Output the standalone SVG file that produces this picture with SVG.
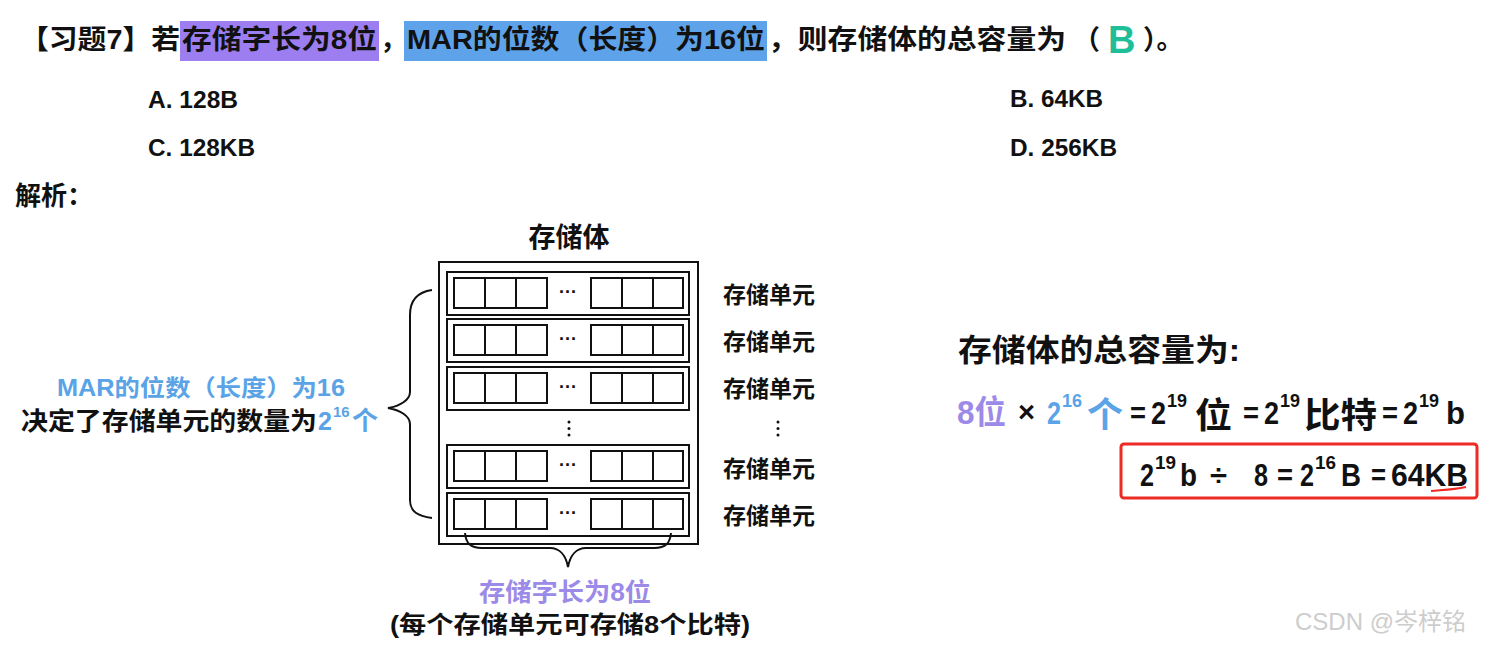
<svg xmlns="http://www.w3.org/2000/svg" width="1489" height="646" viewBox="0 0 1489 646">
<style>
text{font-family:"Liberation Sans","Noto Sans CJK SC",sans-serif;font-weight:bold;fill:#111}
.blue{fill:#5aa3e6}
.purple{fill:#9b8ae8}
.lbl{font-size:23px}
.ln{fill:none;stroke:#111;stroke-width:2}
.cell{fill:#fff;stroke:#111;stroke-width:2}
.d{font-size:32px}
.op{font-size:29px}
.sup{font-size:19px}
.cj{font-size:35px}
</style>
<rect width="1489" height="646" fill="#fff"/>
<g id="question">
<rect x="180" y="21" width="199" height="40" fill="#9c7ef0"/>
<rect x="404" y="21" width="363" height="40" fill="#5ea3ea"/>
<text x="20" y="49" font-size="27" textLength="160" lengthAdjust="spacingAndGlyphs">【习题7】若</text>
<text x="182" y="49" font-size="27" textLength="195" lengthAdjust="spacingAndGlyphs">存储字长为8位</text>
<text x="380" y="49" font-size="27">，</text>
<text x="407" y="49" font-size="27" textLength="358" lengthAdjust="spacingAndGlyphs">MAR的位数（长度）为16位</text>
<text x="768" y="49" font-size="27" textLength="298" lengthAdjust="spacingAndGlyphs">，则存储体的总容量为</text>
<text x="1073" y="49" font-size="27">（</text>
<text x="1108" y="53" font-size="38" style="fill:#1fbe99">B</text>
<text x="1143" y="49" font-size="27">）。</text>
</g>
<g id="options">
<text x="148" y="108" font-size="24" textLength="90" lengthAdjust="spacingAndGlyphs">A. 128B</text>
<text x="1010" y="107" font-size="24" textLength="93" lengthAdjust="spacingAndGlyphs">B. 64KB</text>
<text x="148" y="156" font-size="24" textLength="107" lengthAdjust="spacingAndGlyphs">C. 128KB</text>
<text x="1010" y="156" font-size="24" textLength="107" lengthAdjust="spacingAndGlyphs">D. 256KB</text>
<text x="15" y="205" font-size="26">解析：</text>
</g>
<g id="storage">
<text x="569" y="247" font-size="27" text-anchor="middle">存储体</text>
<rect class="ln" x="439" y="262" width="259" height="282"/>
<g id="row1">
<rect class="ln" x="447" y="272" width="242" height="43"/>
<rect class="cell" x="454" y="278" width="31" height="30"/><rect class="cell" x="485" y="278" width="31" height="30"/><rect class="cell" x="516" y="278" width="31" height="30"/>
<rect class="cell" x="591" y="278" width="31" height="30"/><rect class="cell" x="622" y="278" width="31" height="30"/><rect class="cell" x="653" y="278" width="30" height="30"/>
<text x="568" y="298" font-size="18" text-anchor="middle">···</text>
</g>
<g id="row2">
<rect class="ln" x="447" y="319" width="242" height="43"/>
<rect class="cell" x="454" y="325" width="31" height="30"/><rect class="cell" x="485" y="325" width="31" height="30"/><rect class="cell" x="516" y="325" width="31" height="30"/>
<rect class="cell" x="591" y="325" width="31" height="30"/><rect class="cell" x="622" y="325" width="31" height="30"/><rect class="cell" x="653" y="325" width="30" height="30"/>
<text x="568" y="345" font-size="18" text-anchor="middle">···</text>
</g>
<g id="row3">
<rect class="ln" x="447" y="367" width="242" height="43"/>
<rect class="cell" x="454" y="373" width="31" height="30"/><rect class="cell" x="485" y="373" width="31" height="30"/><rect class="cell" x="516" y="373" width="31" height="30"/>
<rect class="cell" x="591" y="373" width="31" height="30"/><rect class="cell" x="622" y="373" width="31" height="30"/><rect class="cell" x="653" y="373" width="30" height="30"/>
<text x="568" y="393" font-size="18" text-anchor="middle">···</text>
</g>
<g id="vdots">
<circle cx="569" cy="422" r="1.5" fill="#111"/><circle cx="569" cy="428.5" r="1.5" fill="#111"/><circle cx="569" cy="435" r="1.5" fill="#111"/>
<circle cx="778" cy="422" r="1.5" fill="#111"/><circle cx="778" cy="428.5" r="1.5" fill="#111"/><circle cx="778" cy="435" r="1.5" fill="#111"/>
</g>
<g id="row4">
<rect class="ln" x="447" y="445" width="242" height="43"/>
<rect class="cell" x="454" y="451" width="31" height="30"/><rect class="cell" x="485" y="451" width="31" height="30"/><rect class="cell" x="516" y="451" width="31" height="30"/>
<rect class="cell" x="591" y="451" width="31" height="30"/><rect class="cell" x="622" y="451" width="31" height="30"/><rect class="cell" x="653" y="451" width="30" height="30"/>
<text x="568" y="471" font-size="18" text-anchor="middle">···</text>
</g>
<g id="row5">
<rect class="ln" x="447" y="493" width="242" height="43"/>
<rect class="cell" x="454" y="499" width="31" height="30"/><rect class="cell" x="485" y="499" width="31" height="30"/><rect class="cell" x="516" y="499" width="31" height="30"/>
<rect class="cell" x="591" y="499" width="31" height="30"/><rect class="cell" x="622" y="499" width="31" height="30"/><rect class="cell" x="653" y="499" width="30" height="30"/>
<text x="568" y="519" font-size="18" text-anchor="middle">···</text>
</g>
<g id="unit-labels">
<text class="lbl" x="723" y="303">存储单元</text>
<text class="lbl" x="723" y="350">存储单元</text>
<text class="lbl" x="723" y="397">存储单元</text>
<text class="lbl" x="723" y="477">存储单元</text>
<text class="lbl" x="723" y="524">存储单元</text>
</g>
</g>
<g id="braces">
<path class="ln" d="M432,290 C418,292 410,300 410,315 L410,392 C410,400 400,406 388,408 C400,410 410,416 410,424 L410,500 C410,512 418,516 432,518"/>
<path class="ln" d="M465,533 C466,543 470,548 482,548 L550,548 C560,548 566,556 568,567 C570,556 576,548 586,548 L654,548 C666,548 670,543 671,533"/>
</g>
<g id="left-note">
<text x="57" y="396" font-size="23" class="blue" textLength="288" lengthAdjust="spacingAndGlyphs">MAR的位数（长度）为16</text>
<text x="21" y="430" font-size="25" textLength="296" lengthAdjust="spacingAndGlyphs">决定了存储单元的数量为</text>
<text x="318" y="430" font-size="25" class="blue">2</text>
<text x="333" y="417" font-size="15" class="blue">16</text>
<text x="352" y="430" font-size="26" class="blue">个</text>
</g>
<g id="bottom-note">
<text x="565" y="601" font-size="25" class="purple" text-anchor="middle" textLength="172" lengthAdjust="spacingAndGlyphs">存储字长为8位</text>
<text x="570" y="633" font-size="24" text-anchor="middle" textLength="360" lengthAdjust="spacingAndGlyphs">(每个存储单元可存储8个比特)</text>
</g>
<g id="result">
<text x="958" y="361" font-size="31" textLength="282" lengthAdjust="spacingAndGlyphs">存储体的总容量为:</text>
<text x="957" y="424" font-size="33" class="purple" textLength="49" lengthAdjust="spacingAndGlyphs">8位</text>
<text x="1018" y="422" class="op" textLength="17" lengthAdjust="spacingAndGlyphs">×</text>
<text x="1047" y="424" class="d blue" textLength="14" lengthAdjust="spacingAndGlyphs">2</text>
<text x="1062" y="407" class="sup blue" textLength="20" lengthAdjust="spacingAndGlyphs">16</text>
<text x="1087" y="427" class="cj blue" textLength="36" lengthAdjust="spacingAndGlyphs">个</text>
<text x="1130" y="423" class="op" textLength="16" lengthAdjust="spacingAndGlyphs">=</text>
<text x="1151" y="424" class="d" textLength="15" lengthAdjust="spacingAndGlyphs">2</text>
<text x="1167" y="407" class="sup" textLength="20" lengthAdjust="spacingAndGlyphs">19</text>
<text x="1195" y="428" class="cj" textLength="37" lengthAdjust="spacingAndGlyphs">位</text>
<text x="1243" y="423" class="op" textLength="16" lengthAdjust="spacingAndGlyphs">=</text>
<text x="1264" y="424" class="d" textLength="15" lengthAdjust="spacingAndGlyphs">2</text>
<text x="1280" y="407" class="sup" textLength="20" lengthAdjust="spacingAndGlyphs">19</text>
<text x="1304" y="428" class="cj" textLength="73" lengthAdjust="spacingAndGlyphs">比特</text>
<text x="1382" y="423" class="op" textLength="16" lengthAdjust="spacingAndGlyphs">=</text>
<text x="1403" y="424" class="d" textLength="15" lengthAdjust="spacingAndGlyphs">2</text>
<text x="1419" y="407" class="sup" textLength="20" lengthAdjust="spacingAndGlyphs">19</text>
<text x="1446" y="424" class="d" textLength="19" lengthAdjust="spacingAndGlyphs">b</text>
<rect x="1121" y="444" width="356" height="54" rx="3" fill="none" stroke="#ee2a24" stroke-width="3"/>
<text x="1140" y="486" class="d" textLength="14" lengthAdjust="spacingAndGlyphs">2</text>
<text x="1155" y="469" class="sup" textLength="21" lengthAdjust="spacingAndGlyphs">19</text>
<text x="1180" y="486" class="d" textLength="17" lengthAdjust="spacingAndGlyphs">b</text>
<text x="1210" y="485" class="op" textLength="17" lengthAdjust="spacingAndGlyphs">÷</text>
<text x="1254" y="486" class="d" textLength="14" lengthAdjust="spacingAndGlyphs">8</text>
<text x="1277" y="485" class="op" textLength="16" lengthAdjust="spacingAndGlyphs">=</text>
<text x="1300" y="486" class="d" textLength="14" lengthAdjust="spacingAndGlyphs">2</text>
<text x="1315" y="469" class="sup" textLength="21" lengthAdjust="spacingAndGlyphs">16</text>
<text x="1341" y="486" class="d" textLength="20" lengthAdjust="spacingAndGlyphs">B</text>
<text x="1371" y="485" class="op" textLength="15" lengthAdjust="spacingAndGlyphs">=</text>
<text x="1391" y="486" class="d" textLength="77" lengthAdjust="spacingAndGlyphs">64KB</text>
<path d="M1431,491 C1440,490 1452,490 1466,487" fill="none" stroke="#ee2a24" stroke-width="2"/>
</g>
<text x="1295" y="630" font-size="24" style="font-weight:normal;fill:#cdcdcd">CSDN @岑梓铭</text>
</svg>
